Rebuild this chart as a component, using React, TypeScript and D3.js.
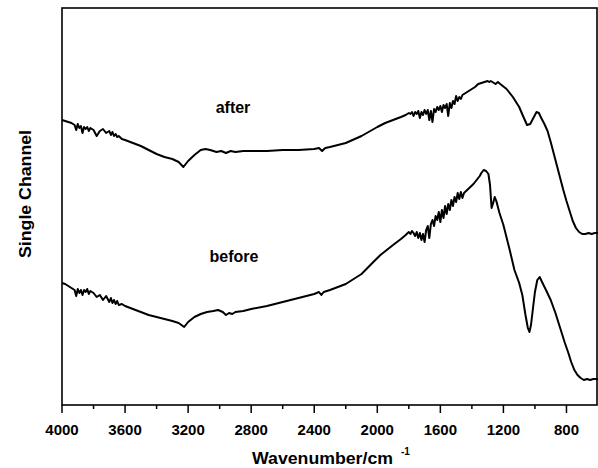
import React from "react";
import * as d3 from "d3";

// wavenumber (cm-1) / single channel intensity (arb. units)
const afterWave = [
  4000, 3980, 3960, 3940, 3920, 3910, 3900, 3890, 3880, 3870, 3860, 3850, 3840, 3830, 3820, 3800,
  3780, 3760, 3740, 3720, 3700, 3690, 3680, 3670, 3660, 3650, 3640, 3620, 3600, 3550, 3500, 3450,
  3400, 3350, 3300, 3260, 3230, 3200, 3160, 3120, 3090, 3060, 3020, 2990, 2960, 2930, 2900, 2850,
  2800, 2700, 2600, 2500, 2400, 2370, 2350, 2330, 2300, 2200, 2100, 2000, 1950, 1900, 1850, 1820,
  1800, 1790, 1780, 1770, 1760, 1750, 1740, 1730, 1720, 1710, 1700, 1690, 1680, 1670, 1660, 1650,
  1640, 1630, 1620, 1610, 1600, 1590, 1580, 1570, 1560, 1550, 1540, 1530, 1520, 1510, 1500, 1490,
  1480, 1470, 1460, 1440, 1420, 1400, 1380, 1360, 1340, 1320, 1300, 1290, 1280, 1260, 1250, 1235,
  1220, 1180, 1140, 1100, 1070, 1050, 1030, 1010, 990, 975, 960, 940, 920, 900, 880, 860,
  840, 820, 800, 780, 760, 740, 720, 700, 680, 660, 640, 620, 600,
];
const afterValue = [
  285, 284, 283, 282, 280, 275, 281, 277, 279, 272, 278, 276, 278, 274, 277, 275,
  269, 274, 276, 272, 274, 270, 273, 269, 271, 268, 269, 266, 265, 262, 259, 255,
  251, 248, 246, 243, 238, 244, 250, 255, 256, 255, 253, 254, 252, 254, 253, 254,
  254, 254, 255, 255, 256, 257, 254, 257, 258, 262, 269, 278, 282, 285, 288, 290,
  292, 291, 293, 289, 293, 291, 294, 287, 293, 290, 295, 291, 295, 285, 294, 283,
  296, 293, 298, 295, 299, 293, 300, 297, 301, 289, 302, 297, 304, 301, 309, 304,
  308, 306, 310, 312, 314, 316, 318, 321, 322, 323, 324, 323, 324, 322, 321, 323,
  321, 316, 308, 298, 287, 280, 281, 287, 293, 292, 287, 281, 274, 263, 251, 239,
  227, 215, 204, 194, 184, 177, 173, 171, 171, 172, 171, 172, 172,
];

const beforeWave = [
  4000, 3980, 3960, 3940, 3920, 3910, 3900, 3890, 3880, 3870, 3860, 3850, 3840, 3830, 3820, 3800,
  3780, 3760, 3740, 3720, 3700, 3690, 3680, 3670, 3660, 3650, 3640, 3620, 3600, 3550, 3500, 3450,
  3400, 3350, 3300, 3260, 3225, 3200, 3160, 3120, 3080, 3040, 3010, 2980, 2960, 2940, 2920, 2900,
  2850, 2800, 2700, 2600, 2500, 2400, 2370, 2355, 2340, 2300, 2200, 2100, 2025, 1980, 1940, 1900,
  1850, 1820, 1800, 1790, 1780, 1770, 1760, 1750, 1740, 1730, 1720, 1710, 1700, 1690, 1680, 1670,
  1660, 1650, 1640, 1630, 1620, 1610, 1600, 1590, 1580, 1570, 1560, 1550, 1540, 1530, 1520, 1510,
  1500, 1490, 1480, 1470, 1460, 1450, 1430, 1410, 1390, 1370, 1350, 1340, 1325, 1310, 1295, 1285,
  1275, 1265, 1255, 1245, 1225, 1200, 1160, 1130, 1100, 1080, 1060, 1045, 1035, 1025, 1010, 1000,
  985, 970, 955, 930, 900, 870, 840, 810, 790, 770, 750, 730, 710, 690, 670, 650, 630, 600,
];
const beforeValue = [
  122, 121, 119, 117, 115, 109, 116, 112, 115, 110, 115, 113, 116, 111, 114, 112,
  108, 110, 105, 109, 103, 107, 102, 105, 101, 104, 100, 101, 99, 96, 93, 90,
  88, 86, 84, 82, 78, 83, 88, 91, 93, 94, 95, 93, 90, 92, 91, 93,
  94, 96, 99, 103, 107, 111, 113, 110, 113, 115, 121, 131, 143, 150, 155, 160,
  166, 170, 173, 171, 174, 172, 169, 173, 167, 172, 165, 171, 163, 175, 179, 167,
  181, 185, 179, 189, 185, 193, 183, 195, 187, 199, 191, 201, 195, 205, 199, 208,
  203, 212, 206, 213, 207, 212, 215, 218, 221, 225, 229, 232, 235, 234, 231, 220,
  197, 202, 208, 204, 192, 180, 155, 135, 122, 110, 90, 77, 73, 80, 100, 113,
  125, 128, 123, 115, 105, 92, 77, 62, 53, 43, 35, 30, 27, 25, 26, 25, 26, 26,
];

const xTicks = [4000, 3600, 3200, 2800, 2400, 2000, 1600, 1200, 800];
const xMinorTicks = [3800, 3400, 3000, 2600, 2200, 1800, 1400, 1000];

export default function App() {
  const W = 598;
  const H = 468;
  const left = 62;
  const right = 597;
  const top = 8;
  const bottom = 405;

  const x = d3.scaleLinear().domain([4000, 600]).range([left, right + 1]);
  const y = d3.scaleLinear().domain([0, 397]).range([bottom, top]);

  const line = d3
    .line<[number, number]>()
    .x((d) => x(d[0]))
    .y((d) => y(d[1]));

  const afterPts = afterWave.map((w, i) => [w, afterValue[i]] as [number, number]);
  const beforePts = beforeWave.map((w, i) => [w, beforeValue[i]] as [number, number]);

  const font = "'Liberation Sans', Arial, sans-serif";

  return (
    <svg
      width={W}
      height={H}
      style={{ position: "absolute", left: 0, top: 0, background: "#fff" }}
      fontFamily={font}
    >
      <path d={line(afterPts) ?? ""} fill="none" stroke="#000" strokeWidth={2} strokeLinejoin="round" />
      <path d={line(beforePts) ?? ""} fill="none" stroke="#000" strokeWidth={2} strokeLinejoin="round" />

      <rect x={left} y={top} width={right - left} height={bottom - top} fill="none" stroke="#000" strokeWidth={1.6} />

      {xTicks.map((t) => (
        <g key={t}>
          <line x1={x(t)} x2={x(t)} y1={bottom} y2={bottom + 8} stroke="#000" strokeWidth={1.5} />
          <text x={x(t)} y={bottom + 30} textAnchor="middle" fontSize={15} fontWeight="bold">
            {t}
          </text>
        </g>
      ))}
      {xMinorTicks.map((t) => (
        <line key={t} x1={x(t)} x2={x(t)} y1={bottom} y2={bottom + 4} stroke="#000" strokeWidth={1.5} />
      ))}

      <text x={252} y={464} fontSize={16} fontWeight="bold">
        <tspan textLength={141} lengthAdjust="spacingAndGlyphs">Wavenumber/cm</tspan>
        <tspan x={401} dy={-9} fontSize={10}>
          -1
        </tspan>
      </text>
      <text
        transform="translate(31, 194) rotate(-90)"
        textAnchor="middle"
        fontSize={16}
        fontWeight="bold"
        textLength={128}
        lengthAdjust="spacingAndGlyphs"
      >
        Single Channel
      </text>

      <text x={233} y={113} textAnchor="middle" fontSize={16} fontWeight="bold">
        after
      </text>
      <text x={234} y={262} textAnchor="middle" fontSize={16} fontWeight="bold">
        before
      </text>
    </svg>
  );
}
